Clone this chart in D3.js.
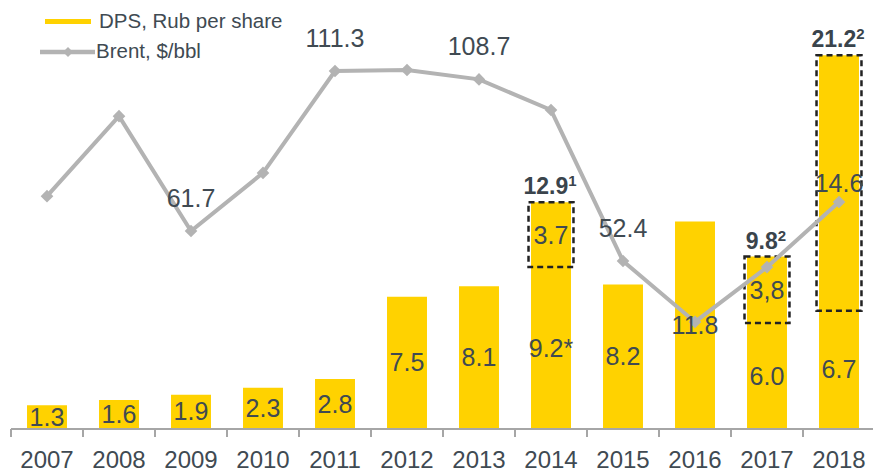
<!DOCTYPE html>
<html>
<head>
<meta charset="utf-8">
<script src="https://cdn.jsdelivr.net/npm/d3@7"></script>
<style>
  body { margin: 0; background: #fff; }
  text { font-family: "Liberation Sans", Arial, sans-serif; }
</style>
</head>
<body>
<script>
var width = 873,
    height = 472;

var yellow = '#ffd200',
    grey = '#b3b3b3',
    textColor = '#404a52';

// chart data
var years = ['2007', '2008', '2009', '2010', '2011', '2012', '2013', '2014', '2015', '2016', '2017', '2018'];
var dpsBase = [1.3, 1.6, 1.9, 2.3, 2.8, 7.5, 8.1, 9.2, 8.2, 11.8, 6.0, 6.7];
var dpsBaseLabels = ['1.3', '1.6', '1.9', '2.3', '2.8', '7.5', '8.1', '9.2*', '8.2', '11.8', '6.0', '6.7'];
var dpsExtra = [0, 0, 0, 0, 0, 0, 0, 3.7, 0, 0, 3.8, 14.6];
var dpsExtraLabels = ['', '', '', '', '', '', '', '3.7', '', '', '3,8', '14.6'];
var dpsTotalLabels = ['', '', '', '', '', '', '', '12.9', '', '', '9.8', '21.2'];
var dpsTotalNotes = ['', '', '', '', '', '', '', '1', '', '', '2', '2'];
var brent = [72.5, 97.3, 61.7, 79.7, 111.3, 111.6, 108.7, 99.2, 52.4, 33.5, 50.5, 70.7];
var brentLabels = ['', '', '61.7', '', '111.3', '', '108.7', '', '52.4', '', '', ''];

var data = years.map(function(y, i) {
  return {
    year: y,
    base: dpsBase[i], baseLabel: dpsBaseLabels[i],
    extra: dpsExtra[i], extraLabel: dpsExtraLabels[i],
    total: dpsTotalLabels[i], note: dpsTotalNotes[i],
    brent: brent[i], brentLabel: brentLabels[i]
  };
});

var svg = d3.select('body')
  .append('svg')
  .attr('width', width)
  .attr('height', height);

var xScale = d3.scaleBand()
  .domain(years)
  .range([11, 875]);

var barW = xScale.bandwidth() * 0.555;

var yScale = d3.scaleLinear()
  .domain([0, 21.2])
  .range([428, 57]);

var yBrent = d3.scaleLinear()
  .domain([0, 111.3])
  .range([430, 71]);

var cx = function(d) { return xScale(d.year) + xScale.bandwidth() / 2; };

// bars
svg.selectAll('.bar')
  .data(data)
  .enter()
  .append('rect')
  .attr('class', 'bar')
  .attr('x', function(d) { return cx(d) - barW / 2; })
  .attr('y', function(d) { return yScale(d.base + d.extra); })
  .attr('width', barW)
  .attr('height', function(d) { return yScale(0) - yScale(d.base + d.extra); })
  .style('fill', yellow);

// dashed boxes round the extra part
var extras = data.filter(function(d) { return d.extra > 0; });

svg.selectAll('.box')
  .data(extras)
  .enter()
  .append('rect')
  .attr('class', 'box')
  .attr('x', function(d) { return cx(d) - barW / 2 - 2.5; })
  .attr('y', function(d) { return yScale(d.base + d.extra); })
  .attr('width', barW + 5)
  .attr('height', function(d) { return yScale(d.base) - yScale(d.base + d.extra); })
  .style('fill', 'none')
  .style('stroke', '#222')
  .style('stroke-width', 2.5)
  .style('stroke-dasharray', '6,4');

// axis
svg.append('line')
  .attr('x1', 11).attr('x2', 875)
  .attr('y1', 429).attr('y2', 429)
  .style('stroke', '#a6a6a6')
  .style('stroke-width', 2);

svg.selectAll('.tick')
  .data(years.concat(['end']))
  .enter()
  .append('line')
  .attr('x1', function(d) { return d === 'end' ? 875 : xScale(d); })
  .attr('x2', function(d) { return d === 'end' ? 875 : xScale(d); })
  .attr('y1', 429).attr('y2', 437)
  .style('stroke', '#a6a6a6')
  .style('stroke-width', 2);

svg.selectAll('.year')
  .data(data)
  .enter()
  .append('text')
  .attr('x', cx)
  .attr('y', 468)
  .attr('text-anchor', 'middle')
  .style('font-size', '24px')
  .style('fill', textColor)
  .text(function(d) { return d.year; });

// brent line
var line = d3.line()
  .x(cx)
  .y(function(d) { return yBrent(d.brent); });

svg.append('path')
  .datum(data)
  .attr('d', line)
  .style('fill', 'none')
  .style('stroke', grey)
  .style('stroke-width', 4);

svg.selectAll('.marker')
  .data(data)
  .enter()
  .append('path')
  .attr('d', d3.symbol().type(d3.symbolSquare).size(80))
  .attr('transform', function(d) { return 'translate(' + cx(d) + ',' + yBrent(d.brent) + ') rotate(45)'; })
  .style('fill', grey);

svg.selectAll('.brentLabel')
  .data(data.filter(function(d) { return d.brentLabel; }))
  .enter()
  .append('text')
  .attr('x', cx)
  .attr('y', function(d) { return yBrent(d.brent) - 24; })
  .attr('text-anchor', 'middle')
  .style('font-size', '25px')
  .style('fill', textColor)
  .text(function(d) { return d.brentLabel; });

// dps labels
svg.selectAll('.baseLabel')
  .data(data)
  .enter()
  .append('text')
  .attr('x', cx)
  .attr('y', function(d) { return (yScale(0) + yScale(d.base)) / 2 + 9; })
  .attr('text-anchor', 'middle')
  .style('font-size', '25px')
  .style('fill', textColor)
  .text(function(d) { return d.baseLabel; });

svg.selectAll('.extraLabel')
  .data(extras)
  .enter()
  .append('text')
  .attr('x', cx)
  .attr('y', function(d) { return (yScale(d.base) + yScale(d.base + d.extra)) / 2 + 9; })
  .attr('text-anchor', 'middle')
  .style('font-size', '25px')
  .style('fill', textColor)
  .text(function(d) { return d.extraLabel; });

var totals = svg.selectAll('.total')
  .data(extras)
  .enter()
  .append('text')
  .attr('x', function(d) { return cx(d) - 1; })
  .attr('y', function(d) { return yScale(d.base + d.extra) - 8; })
  .attr('text-anchor', 'middle')
  .style('font-size', '23px')
  .style('font-weight', 'bold')
  .style('fill', '#3a444c');

totals.append('tspan').text(function(d) { return d.total; });
totals.append('tspan')
  .attr('dy', -8)
  .style('font-size', '15px')
  .text(function(d) { return d.note; });

// legend
svg.append('line')
  .attr('x1', 45).attr('x2', 91)
  .attr('y1', 21.5).attr('y2', 21.5)
  .style('stroke', yellow)
  .style('stroke-width', 5);

svg.append('text')
  .attr('x', 99).attr('y', 28)
  .style('font-size', '20.5px')
  .style('fill', textColor)
  .text('DPS, Rub per share');

svg.append('line')
  .attr('x1', 40).attr('x2', 95)
  .attr('y1', 52).attr('y2', 52)
  .style('stroke', grey)
  .style('stroke-width', 4.5);

svg.append('path')
  .attr('d', d3.symbol().type(d3.symbolSquare).size(50))
  .attr('transform', 'translate(68,52) rotate(45)')
  .style('fill', grey);

svg.append('text')
  .attr('x', 96).attr('y', 58)
  .style('font-size', '20.5px')
  .style('fill', textColor)
  .text('Brent, $/bbl');
</script>
</body>
</html>
